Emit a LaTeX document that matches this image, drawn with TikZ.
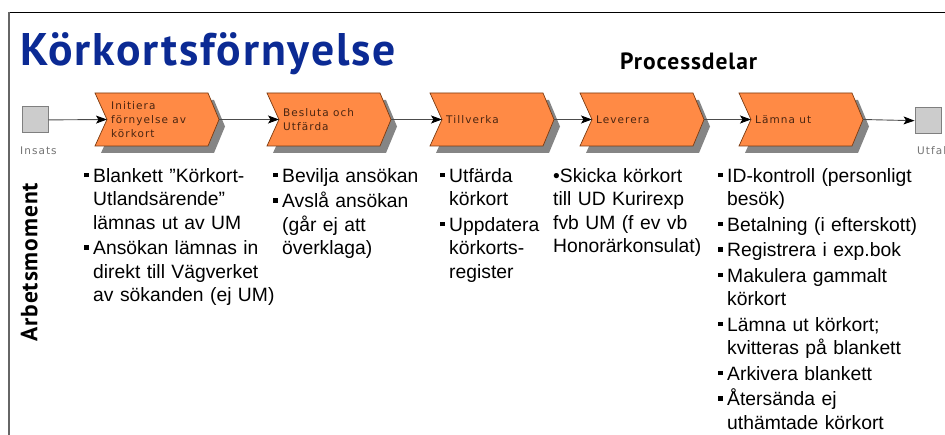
\documentclass[tikz,border=0pt]{standalone}
\usepackage{fontspec}
\setmainfont{Liberation Sans}
\newfontfamily\headfont[LetterSpace=4]{PT Sans}
\newfontfamily\boxfont[LetterSpace=10]{DejaVu Sans}
\usetikzlibrary{arrows.meta}

\definecolor{titleblue}{HTML}{0B2A94}
\definecolor{chevfill}{HTML}{FF8A45}
\definecolor{chevedge}{HTML}{7A3A10}
\definecolor{chevtext}{HTML}{4A2511}
\definecolor{shadowgray}{HTML}{858585}
\definecolor{portfill}{HTML}{CCCCCC}
\definecolor{portedge}{HTML}{7F7F7F}

% square bullet and one bulleted item with hanging indent
\newcommand\sqbul{\rule[5pt]{4.5pt}{4.5pt}}
\newcommand\itm[1]{\hangindent=9pt\hangafter=1\noindent
  \makebox[9pt][l]{\rule{0pt}{15pt}\sqbul}#1\par\vspace{2pt}}

% process step: shadow, chevron outline, label and in/out points
\newcommand\chevron[3]{%
  \begin{scope}[shift={(#2,0)}]
    \fill[shadowgray] (6,100) -- (119,100) -- (130,126.5) -- (119,153)
      -- (6,153) -- (18,126.5) -- cycle;
    \draw[chevshape] (0,93) -- (113,93) -- (124,119.5) -- (113,146)
      -- (0,146) -- (12,119.5) -- cycle;
    \coordinate (#1-in) at (12,119.5);
    \coordinate (#1-out) at (124,119.5);
    \node[chevlabel] (#1) at (16,119.5) {#3};
  \end{scope}}

\tikzset{
  chevshape/.style={fill=chevfill, draw=chevedge, line width=0.7pt, line join=miter},
  chevlabel/.style={anchor=west, align=left, inner sep=0, text=chevtext,
    font=\boxfont\fontsize{10.5}{14}\selectfont},
  port/.style={draw=portedge, fill=portfill, line width=1pt, minimum size=26pt,
    inner sep=0},
  portlabel/.style={inner sep=0, text=black!55, font=\boxfont\fontsize{10.5}{12}\selectfont},
  flow/.style={draw=black!70, line width=0.9pt,
    -{Stealth[length=11pt, width=8pt, inset=2.5pt, color=black]}},
  heading/.style={inner sep=0, font=\headfont\bfseries\fontsize{23.5}{26}\selectfont},
  column/.style={anchor=north west, inner sep=0, align=left,
    font=\fontsize{19.3}{23.5}\selectfont},
}

\begin{document}
\begin{tikzpicture}[x=1pt, y=-1pt]
  \useasboundingbox (0,0) rectangle (945,435);

  % frame lines
  \draw[black, line width=1.4pt] (9,12.5) -- (945,12.5);
  \draw[black!60, line width=1.2pt] (9,12) -- (9,435);

  % headings
  \node[inner sep=0, anchor=base west, text=titleblue,
    font=\headfont\bfseries\fontsize{45.7}{50}\selectfont] (title) at (20,66) {Körkortsförnyelse};
  \node[heading, anchor=base west] (parts) at (620,69.5) {Processdelar};
  \node[heading, anchor=base west, rotate=90] (steps) at (37.3,342) {Arbetsmoment};

  % process chain
  \node[port] (start) at (35,120) {};
  \node[portlabel, anchor=west] (startlabel) at (20,151) {Insats};
  \chevron{p1}{95}{Initiera\\förnyelse av\\körkort}
  \chevron{p2}{267}{Besluta och\\Utfärda}
  \chevron{p3}{430}{Tillverka}
  \chevron{p4}{580}{Leverera}
  \chevron{p5}{739}{Lämna ut}
  \node[port] (finish) at (928,121) {};
  \node[portlabel, anchor=west] (finishlabel) at (917,151) {Utfall};

  \draw[flow] (start) -- (p1-in);
  \draw[flow] (p1-out) -- (p2-in);
  \draw[flow] (p2-out) -- (p3-in);
  \draw[flow] (p3-out) -- (p4-in);
  \draw[flow] (p4-out) -- (p5-in);
  \draw[flow] (p5-out) -- (finish);

  % work steps under each process step
  \node[column, text width=200pt] (w1) at (84,167) {%
    \itm{Blankett ”Körkort-\newline Utlandsärende”\newline lämnas ut av UM}%
    \itm{Ansökan lämnas in\newline direkt till Vägverket\newline av sökanden (ej UM)}};
  \node[column, text width=160pt] (w2) at (273,167) {%
    \itm{Bevilja ansökan}%
    \itm{Avslå ansökan\newline (går ej att\newline överklaga)}};
  \node[column, text width=110pt] (w3) at (440,167) {%
    \itm{Utfärda\newline körkort}%
    \itm{Uppdatera\newline körkorts-\newline register}};
  \node[column, text width=165pt] (w4) at (553,167) {%
    \rule{0pt}{15pt}•Skicka körkort\newline till UD Kurirexp\newline
    fvb UM (f ev vb\newline Honorärkonsulat)};
  \node[column, text width=222pt] (w5) at (718,167) {%
    \itm{ID-kontroll (personligt\newline besök)}%
    \itm{Betalning (i efterskott)}%
    \itm{Registrera i exp.bok}%
    \itm{Makulera gammalt\newline körkort}%
    \itm{Lämna ut körkort;\newline kvitteras på blankett}%
    \itm{Arkivera blankett}%
    \itm{Återsända ej\newline uthämtade körkort}};
\end{tikzpicture}
\end{document}
